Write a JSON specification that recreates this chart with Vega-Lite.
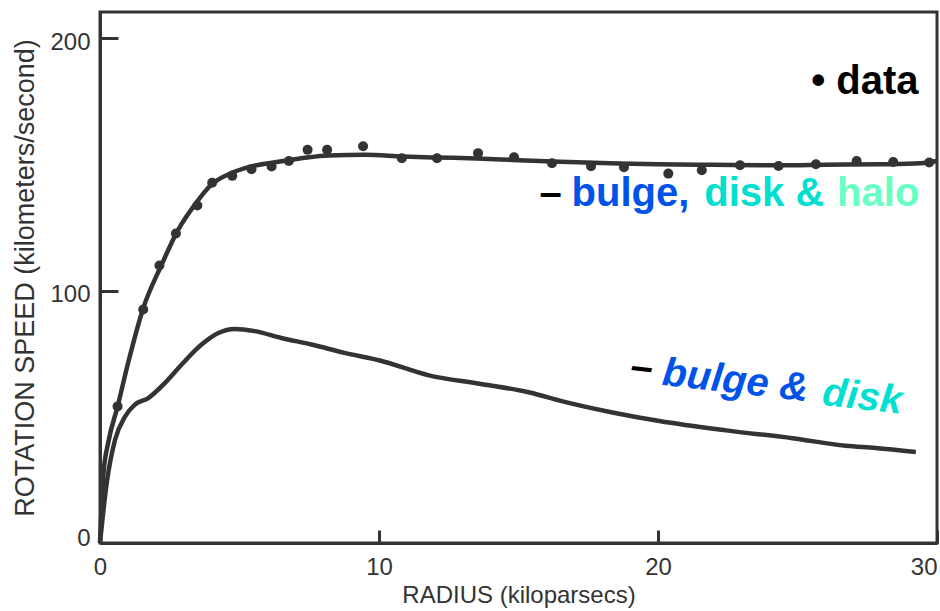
{
  "$schema": "https://vega.github.io/schema/vega-lite/v6.json",
  "width": 837,
  "height": 531,
  "autosize": {"type": "none"},
  "padding": {"left": 100, "top": 12, "right": 3, "bottom": 68},
  "background": "white",
  "config": {
    "view": {"stroke": "#333333", "strokeWidth": 3},
    "font": "Liberation Sans"
  },
  "datasets": {
    "obs": [
      {"radius": 0.63, "speed": 54.1},
      {"radius": 1.55, "speed": 92.5},
      {"radius": 2.13, "speed": 109.9},
      {"radius": 2.72, "speed": 122.6},
      {"radius": 3.49, "speed": 133.7},
      {"radius": 4.02, "speed": 142.7},
      {"radius": 4.74, "speed": 145.4},
      {"radius": 5.43, "speed": 148.0},
      {"radius": 6.15, "speed": 149.1},
      {"radius": 6.77, "speed": 151.3},
      {"radius": 7.44, "speed": 155.7},
      {"radius": 8.14, "speed": 155.7},
      {"radius": 9.43, "speed": 157.1},
      {"radius": 10.82, "speed": 152.4},
      {"radius": 12.08, "speed": 152.4},
      {"radius": 13.55, "speed": 154.4},
      {"radius": 14.84, "speed": 152.8},
      {"radius": 16.2, "speed": 150.4},
      {"radius": 17.6, "speed": 149.2},
      {"radius": 18.78, "speed": 148.8},
      {"radius": 20.37, "speed": 146.3},
      {"radius": 21.57, "speed": 147.6},
      {"radius": 22.94, "speed": 149.6},
      {"radius": 24.32, "speed": 149.3},
      {"radius": 25.66, "speed": 150.0},
      {"radius": 27.12, "speed": 151.3},
      {"radius": 28.43, "speed": 150.9},
      {"radius": 29.72, "speed": 150.7}
    ],
    "model": [
      {"curve": "bulge, disk & halo", "radius": 0, "speed": 0},
      {"curve": "bulge, disk & halo", "radius": 0.12, "speed": 27},
      {"curve": "bulge, disk & halo", "radius": 0.3, "speed": 40},
      {"curve": "bulge, disk & halo", "radius": 0.63, "speed": 54},
      {"curve": "bulge, disk & halo", "radius": 1.0, "speed": 71},
      {"curve": "bulge, disk & halo", "radius": 1.55, "speed": 93},
      {"curve": "bulge, disk & halo", "radius": 2.2, "speed": 110},
      {"curve": "bulge, disk & halo", "radius": 2.8, "speed": 124},
      {"curve": "bulge, disk & halo", "radius": 3.4, "speed": 134},
      {"curve": "bulge, disk & halo", "radius": 4.0, "speed": 142},
      {"curve": "bulge, disk & halo", "radius": 4.7, "speed": 146.5},
      {"curve": "bulge, disk & halo", "radius": 5.2, "speed": 148.5},
      {"curve": "bulge, disk & halo", "radius": 6.4, "speed": 151},
      {"curve": "bulge, disk & halo", "radius": 8.2, "speed": 153.5},
      {"curve": "bulge, disk & halo", "radius": 9.5, "speed": 153.8},
      {"curve": "bulge, disk & halo", "radius": 10.85, "speed": 153.1},
      {"curve": "bulge, disk & halo", "radius": 12, "speed": 152.7},
      {"curve": "bulge, disk & halo", "radius": 13.5, "speed": 152.3},
      {"curve": "bulge, disk & halo", "radius": 15, "speed": 151.6},
      {"curve": "bulge, disk & halo", "radius": 16.5, "speed": 151},
      {"curve": "bulge, disk & halo", "radius": 18.6, "speed": 150.3},
      {"curve": "bulge, disk & halo", "radius": 20, "speed": 150},
      {"curve": "bulge, disk & halo", "radius": 22, "speed": 149.8},
      {"curve": "bulge, disk & halo", "radius": 24.35, "speed": 149.6},
      {"curve": "bulge, disk & halo", "radius": 26, "speed": 149.8},
      {"curve": "bulge, disk & halo", "radius": 28, "speed": 150},
      {"curve": "bulge, disk & halo", "radius": 29.4, "speed": 150.4},
      {"curve": "bulge, disk & halo", "radius": 30, "speed": 151.3},
      {"curve": "bulge & disk", "radius": 0, "speed": 0},
      {"curve": "bulge & disk", "radius": 0.24, "speed": 23.7},
      {"curve": "bulge & disk", "radius": 0.54, "speed": 40.9},
      {"curve": "bulge & disk", "radius": 0.9, "speed": 50.1},
      {"curve": "bulge & disk", "radius": 1.25, "speed": 54.8},
      {"curve": "bulge & disk", "radius": 1.73, "speed": 57.4},
      {"curve": "bulge & disk", "radius": 2.33, "speed": 63.4},
      {"curve": "bulge & disk", "radius": 2.92, "speed": 70.6},
      {"curve": "bulge & disk", "radius": 3.64, "speed": 78.6},
      {"curve": "bulge & disk", "radius": 4.24, "speed": 83.2},
      {"curve": "bulge & disk", "radius": 4.83, "speed": 84.8},
      {"curve": "bulge & disk", "radius": 5.55, "speed": 83.9},
      {"curve": "bulge & disk", "radius": 6.5, "speed": 81.2},
      {"curve": "bulge & disk", "radius": 7.58, "speed": 78.6},
      {"curve": "bulge & disk", "radius": 8.77, "speed": 75.3},
      {"curve": "bulge & disk", "radius": 10.03, "speed": 72.3},
      {"curve": "bulge & disk", "radius": 11.82, "speed": 66.3},
      {"curve": "bulge & disk", "radius": 13.6, "speed": 63.1},
      {"curve": "bulge & disk", "radius": 15.4, "speed": 59.6},
      {"curve": "bulge & disk", "radius": 16.58, "speed": 56.1},
      {"curve": "bulge & disk", "radius": 18.37, "speed": 51.7},
      {"curve": "bulge & disk", "radius": 20.05, "speed": 48.3},
      {"curve": "bulge & disk", "radius": 22.44, "speed": 44.6},
      {"curve": "bulge & disk", "radius": 24.82, "speed": 41.5},
      {"curve": "bulge & disk", "radius": 26.73, "speed": 38.5},
      {"curve": "bulge & disk", "radius": 27.8, "speed": 37.6},
      {"curve": "bulge & disk", "radius": 29.24, "speed": 36.0}
    ],
    "notes": [
      {"row": "upper", "label": "• data", "tone": "black", "radius": 25.49, "speed": 177.8},
      {"row": "upper", "label": "–", "tone": "black", "radius": 15.75, "speed": 133.5},
      {"row": "upper", "label": "bulge,", "tone": "bulge", "radius": 16.9, "speed": 133.5},
      {"row": "upper", "label": "disk &", "tone": "disk", "radius": 21.66, "speed": 133.5},
      {"row": "upper", "label": "halo", "tone": "halo", "radius": 26.42, "speed": 133.5},
      {"row": "lower", "label": "–", "tone": "black", "radius": 18.98, "speed": 65.1},
      {"row": "lower", "label": "bulge &", "tone": "bulge", "radius": 20.12, "speed": 62.7},
      {"row": "lower", "label": "disk", "tone": "disk", "radius": 25.85, "speed": 54.8}
    ]
  },
  "layer": [
    {
      "data": {"name": "model"},
      "mark": {"type": "line", "color": "#333333", "strokeWidth": 4.5, "interpolate": "monotone"},
      "encoding": {
        "x": {
          "field": "radius", "type": "quantitative",
          "scale": {"domain": [0, 30], "nice": false, "zero": false},
          "axis": {
            "title": "RADIUS (kiloparsecs)",
            "values": [0, 10, 20, 30],
            "grid": false,
            "domainColor": "#333333", "domainWidth": 3,
            "tickColor": "#333333", "tickWidth": 3, "tickSize": -13,
            "labelFontSize": 24, "labelColor": "#333333", "labelPadding": 25,
            "labelAlign": {"condition": {"test": "datum.value == 30", "value": "right"}, "value": "center"},
            "titleFontSize": 24, "titleFontWeight": "normal", "titleColor": "#333333", "titlePadding": 4
          }
        },
        "y": {
          "field": "speed", "type": "quantitative",
          "scale": {"domain": [0, 210.3], "nice": false},
          "axis": {
            "title": "ROTATION SPEED (kilometers/second)",
            "values": [0, 100, 200],
            "grid": false,
            "domainColor": "#333333", "domainWidth": 3,
            "tickColor": "#333333", "tickWidth": 3, "tickSize": -18,
            "labelFontSize": 24, "labelColor": "#333333", "labelPadding": 28,
            "labelOffset": {"condition": {"test": "datum.value == 0", "value": -5}, "value": 4},
            "titleFontSize": 27, "titleFontWeight": "normal", "titleColor": "#333333", "titlePadding": 10
          }
        },
        "detail": {"field": "curve", "type": "nominal"}
      }
    },
    {
      "data": {"name": "obs"},
      "mark": {"type": "circle", "color": "#333333", "size": 100, "opacity": 1},
      "encoding": {
        "x": {"field": "radius", "type": "quantitative"},
        "y": {"field": "speed", "type": "quantitative"}
      }
    },
    {
      "data": {"name": "notes"},
      "transform": [{"filter": "datum.row == 'upper'"}],
      "mark": {"type": "text", "align": "left", "baseline": "alphabetic", "fontSize": 40, "fontWeight": "bold", "font": "Liberation Sans"},
      "encoding": {
        "x": {"field": "radius", "type": "quantitative"},
        "y": {"field": "speed", "type": "quantitative"},
        "text": {"field": "label"},
        "color": {
          "field": "tone", "type": "nominal",
          "scale": {"domain": ["black", "bulge", "disk", "halo"], "range": ["#000000", "#0052E8", "#00E0D0", "#66FFC4"]},
          "legend": null
        }
      }
    },
    {
      "data": {"name": "notes"},
      "transform": [{"filter": "datum.row == 'lower'"}],
      "mark": {"type": "text", "align": "left", "baseline": "alphabetic", "fontSize": 40, "fontWeight": "bold", "fontStyle": "italic", "angle": 6.5, "font": "Liberation Sans"},
      "encoding": {
        "x": {"field": "radius", "type": "quantitative"},
        "y": {"field": "speed", "type": "quantitative"},
        "text": {"field": "label"},
        "color": {
          "field": "tone", "type": "nominal",
          "scale": {"domain": ["black", "bulge", "disk", "halo"], "range": ["#000000", "#0052E8", "#00E0D0", "#66FFC4"]},
          "legend": null
        }
      }
    }
  ]
}
